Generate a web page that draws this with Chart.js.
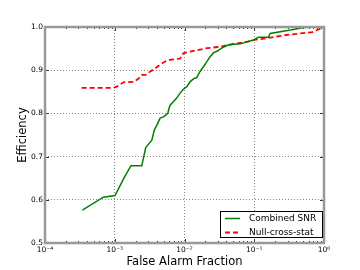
<!DOCTYPE html>
<html>
<head>
<meta charset="utf-8">
<script src="https://cdn.jsdelivr.net/npm/chart.js@4/dist/chart.umd.min.js"></script>
<style>
html,body{margin:0;padding:0;background:#fff;}
#wrap{width:360px;height:270px;}
</style>
</head>
<body>
<div id="wrap"><canvas id="roc" width="360" height="270"></canvas></div>
<script>
// combined SNR curve
const snrX = [3.43e-4,6.85e-4,1.01e-3,1.37e-3,1.71e-3,2.44e-3,2.78e-3,3.40e-3,3.70e-3,4.01e-3,4.47e-3,5.0e-3,5.27e-3,5.76e-3,6.0e-3,6.21e-3,6.93e-3,7.76e-3,8.65e-3,9.64e-3,1.08e-2,1.20e-2,1.34e-2,1.50e-2,1.67e-2,1.87e-2,2.09e-2,2.33e-2,2.6e-2,3.0e-2,3.4e-2,4.3e-2,6.3e-2,9.8e-2,0.115,0.16,0.169,0.235,0.33,0.51,0.89,1.0];
const snrY = [0.576,0.606,0.610,0.652,0.679,0.679,0.721,0.738,0.762,0.773,0.789,0.792,0.795,0.800,0.812,0.819,0.827,0.836,0.847,0.856,0.862,0.873,0.880,0.883,0.897,0.908,0.920,0.931,0.940,0.945,0.951,0.959,0.961,0.970,0.976,0.976,0.985,0.989,0.993,0.999,1.0,1.0];

// null cross stat curve
const nullX = [3.36e-4,9.5e-4,1.07e-3,1.2e-3,1.33e-3,1.85e-3,2.18e-3,2.44e-3,2.8e-3,3.1e-3,3.79e-3,4.47e-3,5.27e-3,6.2e-3,8.65e-3,9.6e-3,1.2e-2,2.1e-2,3.2e-2,5.0e-2,8.0e-2,0.10,0.15,0.21,0.29,0.45,0.68,0.80,1.0];
const nullY = [0.859,0.859,0.862,0.867,0.872,0.873,0.880,0.889,0.889,0.895,0.904,0.913,0.920,0.924,0.927,0.939,0.943,0.951,0.954,0.961,0.966,0.970,0.974,0.978,0.9815,0.985,0.988,0.993,1.0];

const xTicks = [1e-4,1e-3,1e-2,1e-1,1];
const xTickLabels = ["10\u207B\u2074","10\u207B\u00B3","10\u207B\u00B2","10\u207B\u00B9","10\u2070"];
const yTicks = [0.5,0.6,0.7,0.8,0.9,1.0];
const yTickLabels = ["0.5","0.6","0.7","0.8","0.9","1.0"];

const seriesNames = ["Combined SNR","Null-cross-stat"];

const FONT = "'DejaVu Sans', sans-serif";

// frame, inward ticks and legend box
const framePlugin = {
id:"frame",
afterDraw(chart){
const ctx = chart.ctx;
const a = chart.chartArea;
const xs = chart.scales.x, ys = chart.scales.y;
ctx.save();
// ticks
ctx.strokeStyle = "#333";
ctx.lineWidth = 1;
ctx.beginPath();
for(let d=-4; d<=0; d++){
for(let m=1; m<10; m++){
const v = m*Math.pow(10,d);
if(v>1) break;
const px = Math.round(xs.getPixelForValue(v))+0.5;
const len = m===1 ? 4 : 2;
ctx.moveTo(px,a.bottom); ctx.lineTo(px,a.bottom-len);
ctx.moveTo(px,a.top); ctx.lineTo(px,a.top+len);
}
}
yTicks.forEach(v=>{
const py = Math.round(ys.getPixelForValue(v))+0.5;
ctx.moveTo(a.left,py); ctx.lineTo(a.left+4,py);
ctx.moveTo(a.right,py); ctx.lineTo(a.right-4,py);
});
ctx.stroke();
// frame
ctx.strokeStyle = "#999";
ctx.lineWidth = 2.5;
ctx.strokeRect(a.left,a.top,a.right-a.left,a.bottom-a.top);
// legend
const bx = a.right-104, by = a.bottom-32, bw = 102, bh = 26;
ctx.fillStyle = "#fff";
ctx.fillRect(bx,by,bw,bh);
ctx.strokeStyle = "#000";
ctx.lineWidth = 1;
ctx.strokeRect(bx+0.5,by+0.5,bw,bh);
ctx.font = "9px "+FONT;
ctx.textBaseline = "middle";
chart.data.datasets.forEach((ds,i)=>{
const ly = by+7.5+i*14;
ctx.strokeStyle = ds.borderColor;
ctx.lineWidth = ds.borderWidth;
ctx.setLineDash(ds.borderDash || []);
ctx.beginPath();
ctx.moveTo(bx+5,ly); ctx.lineTo(bx+20,ly);
ctx.stroke();
ctx.setLineDash([]);
ctx.fillStyle = "#000";
ctx.fillText(seriesNames[i],bx+29,ly);
});
ctx.restore();
}
};

new Chart(document.getElementById("roc"),{
type:"line",
data:{
datasets:[
{
label:seriesNames[0],
data:snrX.map((x,i)=>({x:x,y:snrY[i]})),
borderColor:"#008000",
borderWidth:1.5,
pointRadius:0,
tension:0
},
{
label:seriesNames[1],
data:nullX.map((x,i)=>({x:x,y:nullY[i]})),
borderColor:"#ff0000",
borderWidth:1.8,
borderDash:[5,3],
pointRadius:0,
tension:0
}
]
},
options:{
responsive:false,
animation:false,
layout:{padding:{top:27,right:36,left:0,bottom:0}},
plugins:{legend:{display:false},tooltip:{enabled:false}},
scales:{
x:{
type:"logarithmic",
min:1e-4,
max:1,
afterBuildTicks:s=>{ s.ticks = xTicks.map(v=>({value:v})); },
afterFit:s=>{ s.height = 27; },
ticks:{
autoSkip:false,
maxRotation:0,
padding:3,
color:"#000",
font:{family:FONT,size:7.5},
callback:(v,i)=>xTickLabels[i]
},
grid:{color:"#888",drawTicks:false},
border:{display:false,dash:[1,2]},
title:{display:true,text:"False Alarm Fraction",color:"#000",font:{family:FONT,size:11.5},padding:{top:0,bottom:1}}
},
y:{
min:0.5,
max:1.0,
afterBuildTicks:s=>{ s.ticks = yTicks.map(v=>({value:v})); },
afterFit:s=>{ s.width = 45; },
ticks:{
padding:2,
color:"#000",
font:{family:FONT,size:7.5},
callback:(v,i)=>yTickLabels[i]
},
grid:{color:"#888",drawTicks:false},
border:{display:false,dash:[1,2]},
title:{display:true,text:"Efficiency",color:"#000",font:{family:FONT,size:11.5},padding:{top:16,bottom:0}}
}
}
},
plugins:[framePlugin]
});
</script>
</body>
</html>
